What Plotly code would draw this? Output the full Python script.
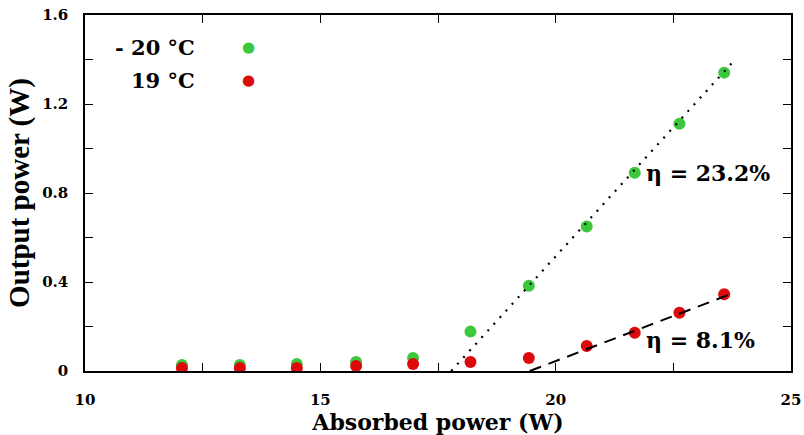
import plotly.graph_objects as go

# Measured output power versus absorbed pump power at two heat-sink temperatures
absorbed = [12.06, 13.29, 14.50, 15.76, 16.97, 18.19, 19.43, 20.66, 21.68, 22.63, 23.58]
out_m20 = [0.027, 0.027, 0.031, 0.040, 0.058, 0.177, 0.383, 0.649, 0.891, 1.111, 1.341]
out_19 = [0.013, 0.013, 0.013, 0.022, 0.031, 0.040, 0.058, 0.112, 0.172, 0.262, 0.345]

# Linear fits above threshold: slope efficiency and threshold (W)
slope_m20, thr_m20, end_m20 = 0.232, 17.78, 23.80
slope_19, thr_19, end_19 = 0.081, 19.45, 23.75

labels = ["- 20 °C", "19 °C"]
x_ticks = [10, 15, 20, 25]
y_ticks = [0, 0.4, 0.8, 1.2, 1.6]
y_tick_text = ["0", "0.4", "0.8", "1.2", "1.6"]

green = "#3cc83c"
red = "#dc0a0a"
wide_serif = "DejaVu Serif"
serif = "Liberation Serif"


def bold_font(size, family=wide_serif):
    return dict(family=family, size=size, color="black", weight="bold")


fig = go.Figure()

# Measured points first, fit lines drawn on top of them
fig.add_trace(go.Scatter(x=absorbed, y=out_m20, mode="markers", name=labels[0],
                         marker=dict(color=green, size=12), showlegend=False))
fig.add_trace(go.Scatter(x=absorbed, y=out_19, mode="markers", name=labels[1],
                         marker=dict(color=red, size=12), showlegend=False))

fit_x1 = [thr_m20, end_m20]
fig.add_trace(go.Scatter(x=fit_x1, y=[slope_m20 * (x - thr_m20) for x in fit_x1],
                         mode="lines", line=dict(color="black", width=2.2, dash="2px,7px"),
                         showlegend=False, hoverinfo="skip"))
fit_x2 = [thr_19, end_19]
fig.add_trace(go.Scatter(x=fit_x2, y=[slope_19 * (x - thr_19) for x in fit_x2],
                         mode="lines", line=dict(color="black", width=2, dash="12px,8px"),
                         showlegend=False, hoverinfo="skip"))

# Legend block: text on the left, coloured dot on the right
for i, (lab, col) in enumerate(zip(labels, [green, red])):
    yy = 0.910 - i * 0.093
    fig.add_annotation(x=0.158, y=yy, xref="paper", yref="paper", text=f"<b>{lab}</b>",
                       showarrow=False, xanchor="right", yanchor="middle",
                       font=bold_font(21))
    fig.add_annotation(x=0.231, y=yy, xref="paper", yref="paper", text="●",
                       showarrow=False, xanchor="center", yanchor="middle",
                       font=dict(family="DejaVu Sans", size=15, color=col))

# Slope efficiency labels
fig.add_annotation(x=21.88, y=0.891, text=f"<b>η = {slope_m20 * 100:.1f}%</b>", showarrow=False,
                   xanchor="left", yanchor="middle", font=bold_font(22))
fig.add_annotation(x=21.88, y=0.14, text=f"<b>η = {slope_19 * 100:.1f}%</b>", showarrow=False,
                   xanchor="left", yanchor="middle", font=bold_font(22))

axis_common = dict(showline=True, linecolor="black", linewidth=1.5, mirror="allticks",
                   ticks="inside", ticklen=8, tickcolor="black", tickwidth=1.2,
                   showgrid=False, zeroline=False, automargin=False,
                   tickfont=bold_font(15))

fig.update_xaxes(range=[10, 25], tickvals=x_ticks,
                 ticktext=[f"<b>{v}</b>" for v in x_ticks],
                 minor=dict(dtick=2.5, ticks="inside", ticklen=8, tickcolor="black", tickwidth=1.2),
                 ticklabelstandoff=14,
                 title=dict(text="<b>Absorbed power (W)</b>", standoff=2, font=bold_font(22)),
                 **axis_common)
fig.update_yaxes(range=[0, 1.6], tickvals=y_ticks,
                 ticktext=[f"<b>{t}</b>" for t in y_tick_text],
                 minor=dict(dtick=0.2, ticks="inside", ticklen=8, tickcolor="black", tickwidth=1.2),
                 ticklabelstandoff=12,
                 title=dict(text="<b>Output power (W)</b>", standoff=4, font=bold_font(29, serif)),
                 **axis_common)

fig.update_layout(width=804, height=435, margin=dict(l=85, r=13, t=15, b=64),
                  plot_bgcolor="white", paper_bgcolor="white", showlegend=False)

fig.write_html("out.html")
